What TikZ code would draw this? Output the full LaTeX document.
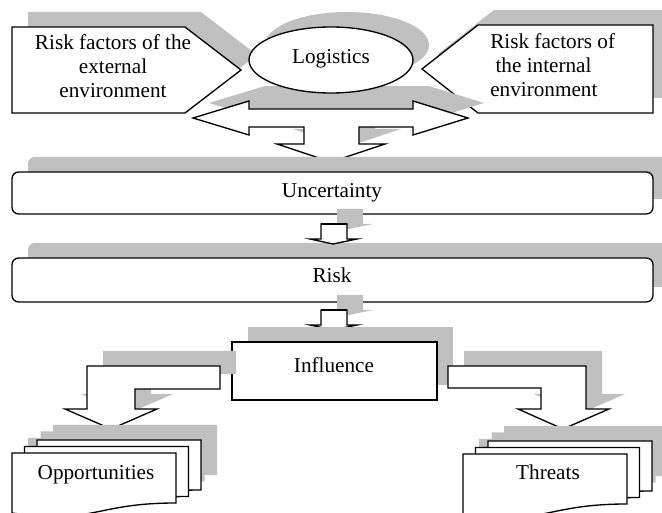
\documentclass[tikz,border=0pt]{standalone}
\usepackage{fontspec}
\setmainfont{Liberation Serif}
\definecolor{shadowgray}{RGB}{192,192,192}
\tikzset{
  x=0.75pt, y=-0.75pt,
  shade/.style={fill=shadowgray, draw=none},
  outline/.style={draw=black, line width=1pt, fill=white, line join=miter},
  lbl/.style={font=\fontsize{15.9}{18}\selectfont, inner sep=0pt, align=center},
  drop/.style={shift={(16,-15)}},
}
% shape outlines (pixel-like units, y pointing down)
\def\leftpent{(12,27) -- (185,27) -- (241,70) -- (185,113) -- (12,113) -- cycle}
\def\rightpent{(422,69) -- (478,25) -- (653,25) -- (653,113) -- (478,113) -- cycle}
\def\splitarrow{(193,118) -- (249,101) -- (249,109) -- (413,109) -- (413,101) -- (468,118)
  -- (413,135) -- (413,127) -- (359,127) -- (359,144) -- (385,144) -- (331,162)
  -- (277,144) -- (304,144) -- (304,127) -- (249,127) -- (249,135) -- cycle}
\def\smallarrow{(321,224) -- (347,224) -- (347,239) -- (357,239) -- (333,244)
  -- (310,239) -- (321,239) -- cycle}
\def\leftbend{(87,366) -- (220,366) -- (220,389) -- (135,389) -- (135,409)
  -- (157,409) -- (111,429) -- (65,409) -- (87,409) -- cycle}
\def\rightbend{(448,366) -- (586,366) -- (586,409) -- (609,409) -- (563,429)
  -- (518,409) -- (541,409) -- (541,388) -- (448,388) -- cycle}
\def\docsheet{(0,0) -- (164,0) -- (164,50) .. controls (82,50) and (82,72) .. (0,60) -- cycle}
\begin{document}
\begin{tikzpicture}
\useasboundingbox (0,0) rectangle (662,513);

% external risk factors
\fill[shade, drop] \leftpent;
\draw[outline] \leftpent;
\node[lbl, anchor=base] (ext) at (113,98) {Risk factors of the\\external\\environment};

% internal risk factors
\fill[shade, drop] \rightpent;
\draw[outline] \rightpent;
\node[lbl, anchor=base west, align=left] (int) at (490,97) {Risk factors of\\\ the internal\\environment};

% two-way arrow feeding downwards
\fill[shade, drop] \splitarrow;
\fill[shade] (265,86) rectangle (429,95);
\draw[outline] \splitarrow;

% logistics
\fill[shade] (347,45) ellipse [x radius=61.5pt, y radius=24.75pt];
\draw[outline] (331,60) ellipse [x radius=61.5pt, y radius=24.75pt];
\node[lbl, anchor=base] (log) at (331,64) {Logistics};

% uncertainty
\fill[shade, drop, rounded corners=5pt] (12,172) rectangle (653,214);
\draw[outline, rounded corners=5pt] (12,172) rectangle (653,214);
\node[lbl, anchor=base] (unc) at (332,198) {Uncertainty};

% risk
\fill[shade, drop, rounded corners=5pt] (12,258) rectangle (653,302);
\draw[outline, rounded corners=5pt] (12,258) rectangle (653,302);
\node[lbl, anchor=base] (risk) at (332,283) {Risk};

% small arrows between the bands
\foreach \dy in {0,86} {
  \begin{scope}[shift={(0,\dy)}]
    \fill[shade, drop] \smallarrow;
    \draw[outline] \smallarrow;
    \draw[line width=2.2pt] (321,224) -- (347,224);
  \end{scope}
}

% influence
\fill[shade, drop] (232,342) rectangle (437,400);
\draw[outline] (232,342) rectangle (437,400);
\node[lbl, anchor=base] (inf) at (334,373) {Influence};

% bent arrows
\fill[shade, drop] \leftbend;
\draw[outline] \leftbend;
\fill[shade, drop] \rightbend;
\draw[outline] \rightbend;

% stacked documents: opportunities
\foreach \px/\py in {37/440, 24.5/446.5, 12/453} {
  \fill[shade, shift={(\px+16,\py-15)}] \docsheet;
}
\foreach \px/\py in {37/440, 24.5/446.5, 12/453} {
  \draw[outline, shift={(\px,\py)}] \docsheet;
}
\node[lbl, anchor=base] (opp) at (96,480) {Opportunities};

% stacked documents: threats
\foreach \px/\py in {488/441, 475.5/447.5, 463/454} {
  \fill[shade, shift={(\px+16,\py-15)}] \docsheet;
}
\foreach \px/\py in {488/441, 475.5/447.5, 463/454} {
  \draw[outline, shift={(\px,\py)}] \docsheet;
}
\node[lbl, anchor=base] (thr) at (548,480) {Threats};
\end{tikzpicture}
\end{document}
